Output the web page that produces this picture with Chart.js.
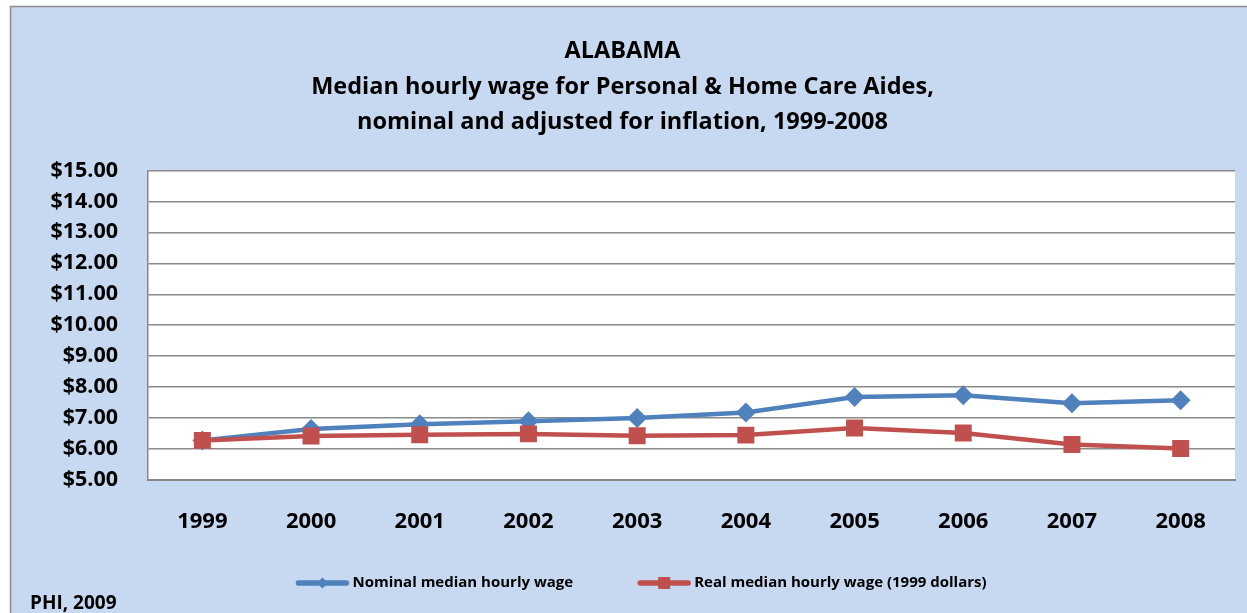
<!DOCTYPE html>
<html>
<head>
<meta charset="utf-8">
<script src="https://cdn.jsdelivr.net/npm/chart.js@4.4.0/dist/chart.umd.min.js"></script>
<style>
  html, body { margin: 0; padding: 0; background: #ffffff; }
  #wrap { width: 1247px; height: 613px; position: relative; }
</style>
</head>
<body>
<div id="wrap"><canvas id="grafica"></canvas></div>
<script>
// datos
const anios = ['1999', '2000', '2001', '2002', '2003', '2004', '2005', '2006', '2007', '2008'];
const salarioNominal = [6.28, 6.65, 6.80, 6.90, 7.00, 7.18, 7.68, 7.74, 7.48, 7.58];
const salarioReal = [6.28, 6.42, 6.46, 6.49, 6.43, 6.45, 6.68, 6.52, 6.15, 6.02];
const titulo = ['ALABAMA', 'Median hourly wage for Personal & Home Care Aides,', 'nominal and adjusted for inflation, 1999-2008'];
const etiquetasSerie = ['Nominal median hourly wage', 'Real median hourly wage (1999 dollars)'];
const fuente = 'PHI, 2009';

const AZUL = '#4f81bd';
const ROJO = '#c0504d';
const FUENTE = '"Open Sans", "Liberation Sans", sans-serif';

// marcador pequeno para la leyenda
const dibujarIcono = (ctx, x, y, color, forma) => {
    ctx.strokeStyle = color;
    ctx.lineWidth = 5.5;
    ctx.lineCap = 'round';
    ctx.beginPath();
    ctx.moveTo(x + 3, y); ctx.lineTo(x + 51, y);
    ctx.stroke();
    ctx.fillStyle = color;
    if (forma === 'rectRot') {
        ctx.beginPath();
        ctx.moveTo(x + 27, y - 5.5); ctx.lineTo(x + 32.5, y); ctx.lineTo(x + 27, y + 5.5); ctx.lineTo(x + 21.5, y);
        ctx.closePath(); ctx.fill();
    } else {
        ctx.fillRect(x + 21, y - 6, 12, 12);
    }
};

// fondo azul, leyenda y texto de fuente
const fondo = {
    id: 'fondo',
    beforeDraw(chart) {
        const { ctx, width, height } = chart;
        ctx.save();
        ctx.fillStyle = '#ffffff';
        ctx.fillRect(0, 0, width, height);
        ctx.fillStyle = '#c6d9f1';
        ctx.fillRect(10, 6, width, height);
        ctx.strokeStyle = '#8c8c8c';
        ctx.lineWidth = 1.5;
        ctx.strokeRect(10.5, 6.5, width + 10, height + 10);
        const a = chart.chartArea;
        ctx.fillStyle = '#ffffff';
        ctx.fillRect(a.left, a.top, a.right - a.left, a.bottom - a.top);
        ctx.restore();
    },
    afterDraw(chart) {
        const { ctx } = chart;
        ctx.save();
        ctx.fillStyle = '#000000';
        ctx.textBaseline = 'middle';
        ctx.font = `bold 15px ${FUENTE}`;
        const items = chart.data.datasets.map(ds => ({
            ds, ancho: 57 + ctx.measureText(ds.label).width
        }));
        const hueco = 64;
        const total = items.reduce((s, it) => s + it.ancho, 0) + hueco * (items.length - 1);
        let x = 641 - total / 2;
        const y = 583;
        items.forEach(it => {
            dibujarIcono(ctx, x, y, it.ds.borderColor, it.ds.pointStyle);
            ctx.fillStyle = '#000000';
            ctx.fillText(it.ds.label, x + 57, y);
            x += it.ancho + hueco;
        });
        ctx.font = `bold 19px ${FUENTE}`;
        ctx.textBaseline = 'alphabetic';
        ctx.fillText(fuente, 30, 609);
        ctx.restore();
    }
};

const ctx = document.getElementById('grafica').getContext('2d');
new Chart(ctx, {
    type: 'line',
    data: {
        labels: anios,
        datasets: [{
            label: etiquetasSerie[0],
            data: salarioNominal,
            order: 2,
            borderColor: AZUL,
            backgroundColor: AZUL,
            borderWidth: 4.5,
            pointStyle: 'rectRot',
            pointRadius: 10,
            pointHoverRadius: 10,
            pointBorderWidth: 0,
            tension: 0
        }, {
            label: etiquetasSerie[1],
            data: salarioReal,
            order: 1,
            borderColor: ROJO,
            backgroundColor: ROJO,
            borderWidth: 4.5,
            pointStyle: 'rect',
            pointRadius: 12,
            pointHoverRadius: 12,
            pointBorderWidth: 0,
            tension: 0
        }]
    },
    options: {
        responsive: true,
        maintainAspectRatio: false,
        animation: false,
        layout: { padding: { left: 10, right: 12, top: 0, bottom: 0 } },
        plugins: {
            title: {
                display: true,
                text: titulo,
                color: '#000000',
                font: { family: FUENTE, size: 23.5, weight: 'bold', lineHeight: 1.51 },
                padding: { top: 34, bottom: 30 }
            },
            legend: { display: false },
            tooltip: { enabled: false }
        },
        scales: {
            x: {
                offset: true,
                grid: { display: false, drawTicks: false },
                border: { display: true, color: '#868686', width: 2 },
                ticks: {
                    color: '#000000',
                    font: { family: FUENTE, size: 22, weight: 'bold' },
                    padding: 29
                },
                afterFit: (scale) => { scale.height = 133; }
            },
            y: {
                min: 5,
                max: 15,
                grid: { color: '#8a8a8a', lineWidth: 1.5, drawTicks: false },
                border: { display: true, color: '#868686', width: 1.5 },
                ticks: {
                    stepSize: 1,
                    autoSkip: false,
                    color: '#000000',
                    font: { family: FUENTE, size: 21.5, weight: 'bold' },
                    padding: 30,
                    callback: (v) => '$' + Number(v).toFixed(2)
                },
                afterFit: (scale) => { scale.width = 138; }
            }
        }
    },
    plugins: [fondo]
});
</script>
</body>
</html>
